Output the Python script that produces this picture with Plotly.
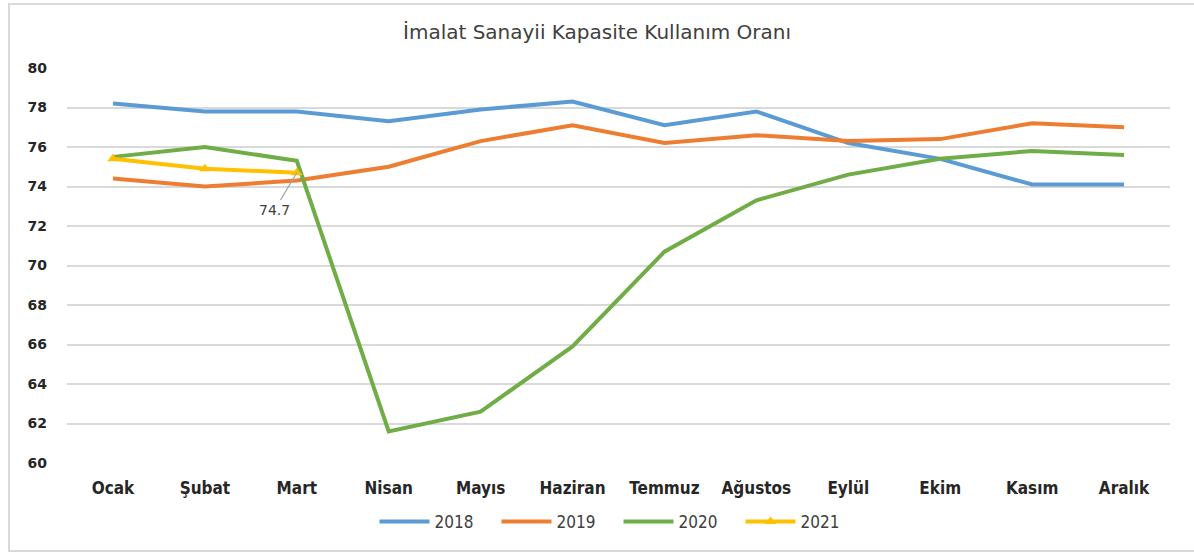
import plotly.graph_objects as go

months = ["Ocak", "Şubat", "Mart", "Nisan", "Mayıs", "Haziran", "Temmuz",
          "Ağustos", "Eylül", "Ekim", "Kasım", "Aralık"]
y2018 = [78.2, 77.8, 77.8, 77.3, 77.9, 78.3, 77.1, 77.8, 76.2, 75.4, 74.1, 74.1]
y2019 = [74.4, 74.0, 74.3, 75.0, 76.3, 77.1, 76.2, 76.6, 76.3, 76.4, 77.2, 77.0]
y2020 = [75.5, 76.0, 75.3, 61.6, 62.6, 65.9, 70.7, 73.3, 74.6, 75.4, 75.8, 75.6]
y2021 = [75.4, 74.9, 74.7]

colors = {"2018": "#5B9BD5", "2019": "#ED7D31", "2020": "#70AD47", "2021": "#FFC000"}

fig = go.Figure()
for name, ys in [("2018", y2018), ("2019", y2019), ("2020", y2020)]:
    fig.add_trace(go.Scatter(x=months[:len(ys)], y=ys, name=name, mode="lines",
                             line=dict(color=colors[name], width=4)))
fig.add_trace(go.Scatter(x=months[:len(y2021)], y=y2021, name="2021", mode="lines+markers",
                         line=dict(color=colors["2021"], width=4),
                         marker=dict(symbol="triangle-up", size=10, color=colors["2021"])))

fig.add_annotation(x=months[2], y=y2021[2], text=f"{y2021[2]}", showarrow=True,
                   arrowhead=0, arrowwidth=1.2, arrowcolor="#A6A6A6", ax=-22, ay=37,
                   font=dict(family="DejaVu Sans", size=14, color="#404040"))

fig.add_shape(type="rect", xref="paper", yref="paper", x0=-0.0526, x1=1.03, y0=-0.2228, y1=1.162,
              line=dict(color="#D9D9D9", width=2), fillcolor="rgba(0,0,0,0)", layer="below")

fig.update_layout(
    width=1194, height=554,
    margin=dict(l=67, r=24, t=68, b=91),
    paper_bgcolor="white", plot_bgcolor="white",
    title=dict(text="İmalat Sanayii Kapasite Kullanım Oranı", x=0.5, xanchor="center",
               y=1 - 32 / 554, yanchor="middle",
               font=dict(family="DejaVu Sans", size=20, color="#404040")),
    xaxis=dict(type="category", range=[-0.5, 11.5], showgrid=False, showline=False,
               ticks="", ticklabelstandoff=13,
               tickfont=dict(family="Liberation Sans Narrow, DejaVu Sans Condensed, Arial",
                             size=17, color="#262626", weight="bold")),
    yaxis=dict(range=[60, 80], dtick=2, showgrid=True, gridcolor="#D9D9D9", gridwidth=1.5,
               zeroline=False, showline=False, ticks="", ticklabelstandoff=19,
               tickfont=dict(family="DejaVu Sans", size=14, color="#262626", weight="bold")),
    legend=dict(orientation="h", x=0.5, xanchor="center", y=-0.149, yanchor="middle",
                font=dict(family="Liberation Sans Narrow, DejaVu Sans Condensed, Arial", size=17,
                          color="#404040"),
                itemwidth=50, entrywidth=57, entrywidthmode="pixels"),
    showlegend=True,
)

fig.write_html("out.html", config={"displayModeBar": False},
               post_script="document.body.style.margin='0';")
